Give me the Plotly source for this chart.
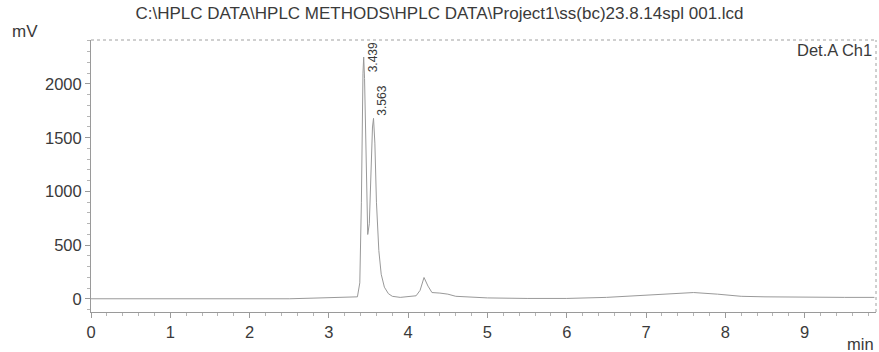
import plotly.graph_objects as go

# Chromatogram (time in min, signal in mV)
time_min = [0.0, 0.5, 1.0, 1.5, 2.0, 2.5, 2.8, 3.0, 3.2, 3.3, 3.36, 3.39, 3.41, 3.43,
            3.439, 3.45, 3.47, 3.49, 3.51, 3.53, 3.55, 3.563, 3.58, 3.60, 3.63, 3.66,
            3.70, 3.75, 3.80, 3.9, 4.0, 4.1, 4.15, 4.2, 4.25, 4.3, 4.4, 4.5, 4.6, 4.8,
            5.0, 5.5, 6.0, 6.5, 7.0, 7.3, 7.6, 7.9, 8.2, 8.5, 9.0, 9.5, 9.88]
signal_mv = [2, 2, 0, 0, 0, 2, 8, 12, 15, 15, 20, 150, 900, 2100,
             2250, 2050, 1200, 600, 700, 1200, 1600, 1680, 1450, 900, 450, 230,
             110, 50, 25, 15, 20, 30, 80, 200, 120, 60, 55, 45, 25, 15,
             10, 5, 5, 15, 35, 50, 60, 45, 25, 20, 15, 15, 15]

peak_times = [3.439, 3.563]
peak_labels = ["3.439", "3.563"]
label_y = [2245, 1840]

x_ticks = [0, 1, 2, 3, 4, 5, 6, 7, 8, 9]
y_ticks = [0, 500, 1000, 1500, 2000]

title_text = "C:\\HPLC DATA\\HPLC METHODS\\HPLC DATA\\Project1\\ss(bc)23.8.14spl 001.lcd"

FONT = "Liberation Sans, Arial, sans-serif"
TXT = "#3a3a3a"
GRID = "#9a9a9a"

fig = go.Figure()
fig.add_trace(go.Scatter(x=time_min, y=signal_mv, mode="lines",
                         line=dict(color="#999999", width=1), showlegend=False,
                         hoverinfo="skip"))

for t, lab, ly in zip(peak_times, peak_labels, label_y):
    fig.add_annotation(x=t, y=ly, text=lab, showarrow=False, textangle=-90,
                       xshift=9, xanchor="center", yanchor="middle",
                       font=dict(family=FONT, size=12, color=TXT))

fig.add_annotation(x=1, y=1, xref="paper", yref="paper", text="Det.A Ch1",
                   showarrow=False, xanchor="right", yanchor="top", xshift=-2, yshift=1,
                   font=dict(family=FONT, size=16.5, color=TXT))

fig.update_layout(
    width=879, height=352,
    margin=dict(l=91, r=3, t=40, b=40),
    paper_bgcolor="white", plot_bgcolor="white",
    title=dict(text=title_text, x=0.5, xanchor="center", y=1 - 13 / 352, yanchor="middle",
               font=dict(family=FONT, size=17, color=TXT)),
    xaxis=dict(range=[0, 9.9], tickvals=x_ticks, showgrid=False, zeroline=False,
               showline=True, linecolor=GRID, linewidth=1, mirror=False,
               ticks="outside", ticklen=5, tickcolor=GRID,
               minor=dict(dtick=0.2, ticks="outside", ticklen=3, tickcolor="#b5b5b5"),
               tickfont=dict(family=FONT, size=16.5, color=TXT)),
    yaxis=dict(range=[-121, 2409], tickvals=y_ticks, showgrid=False, zeroline=False,
               showline=True, linecolor=GRID, linewidth=1,
               ticks="outside", ticklen=5, tickcolor=GRID,
               minor=dict(dtick=100, ticks="outside", ticklen=3, tickcolor="#b5b5b5"),
               tickfont=dict(family=FONT, size=16.5, color=TXT)),
)

# frame: top and right borders (dotted, like the print)
fig.add_shape(type="line", xref="paper", yref="paper", x0=0, x1=1, y0=1, y1=1,
              line=dict(color="#a0a0a0", width=1, dash="dot"))
fig.add_shape(type="line", xref="paper", yref="paper", x0=1, x1=1, y0=0, y1=1,
              line=dict(color="#a0a0a0", width=1, dash="dot"))

# axis unit labels
fig.add_annotation(x=-81 / 785, y=1, xref="paper", yref="paper", text="mV",
                   showarrow=False, xanchor="left", yanchor="bottom", yshift=-3,
                   font=dict(family=FONT, size=17, color=TXT))
fig.add_annotation(x=1, y=0, xref="paper", yref="paper", text="min",
                   showarrow=False, xanchor="right", yanchor="top", yshift=-21,
                   font=dict(family=FONT, size=16.5, color=TXT))

fig.write_html("out.html")
